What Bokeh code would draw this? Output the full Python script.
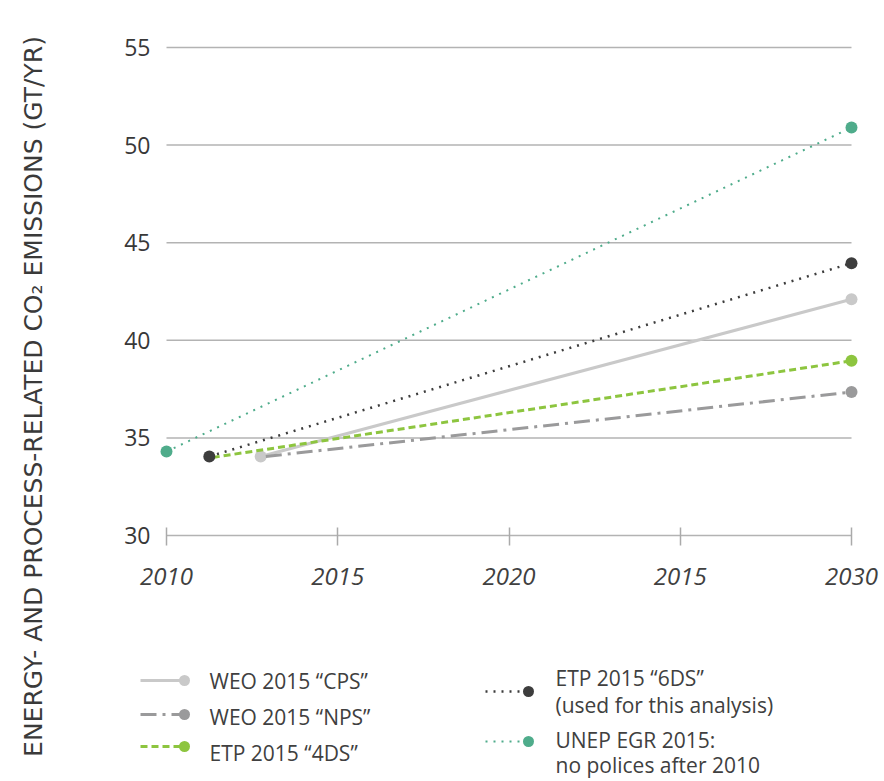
import math
from bokeh.plotting import figure
from bokeh.models import Range1d, FixedTicker, LinearAxis
from bokeh.core.properties import value
from bokeh.embed import file_html
from bokeh.resources import INLINE

# ---------------- data ----------------
series_names = ["WEO 2015 “CPS”", "WEO 2015 “NPS”", "ETP 2015 “4DS”",
                "ETP 2015 “6DS”", "UNEP EGR 2015"]
legend_lines = [["WEO 2015 “CPS”"], ["WEO 2015 “NPS”"], ["ETP 2015 “4DS”"],
                ["ETP 2015 “6DS”", "(used for this analysis)"],
                ["UNEP EGR 2015:", "no polices after 2010"]]
cps_x = [2012.75, 2030]
cps_y = [34.05, 42.1]
nps_x = [2012.9, 2030]
nps_y = [34.05, 37.35]
d4_x = [2011.35, 2030]
d4_y = [34.0, 38.95]
d6_x = [2011.25, 2030]
d6_y = [34.05, 43.95]
unep_x = [2010, 2030]
unep_y = [34.3, 50.9]
start_marker = [True, False, False, True, True]

x_ticks = [2010, 2015, 2020, 2025, 2030]
x_tick_labels = ["2010", "2015", "2020", "2015", "2030"]
y_ticks = [30, 35, 40, 45, 50, 55]
y_title = "ENERGY- AND PROCESS-RELATED CO\u2082 EMISSIONS (GT/YR)"

colors = ["#c9c9c9", "#9a9a9b", "#8dc53f", "#3d3d3d", "#4fac8b"]
dashes = ["solid", "16 6 3 6", "7 4", "2 6", "2 6"]
widths = [3, 3, 3, 2.5, 2]

xs_all = [cps_x, nps_x, d4_x, d6_x, unep_x]
ys_all = [cps_y, nps_y, d4_y, d6_y, unep_y]

FONT = "Open Sans"
TXT = "#404040"

W, H = 884, 781
# pixel placement of the plotting area: x_ticks[0] at px 166, x_ticks[-1] at 851;
# y_ticks[0] at px 535, y_ticks[-1] at 47
px_x0, px_x1 = 166, 851
px_y0, px_y1 = 535, 47
sx = (px_x1 - px_x0) / (x_ticks[-1] - x_ticks[0])
sy = (px_y0 - px_y1) / (y_ticks[-1] - y_ticks[0])
xr = Range1d(x_ticks[0] - px_x0 / sx, x_ticks[0] + (W - px_x0) / sx)
yr = Range1d(y_ticks[0] - (H - px_y0) / sy, y_ticks[0] + px_y0 / sy)

p = figure(width=W, height=H, x_range=xr, y_range=yr,
           output_backend="svg", toolbar_location=None, min_border=0,
           outline_line_color=None, x_axis_type=None, y_axis_type=None)
p.grid.visible = False
p.extra_x_ranges = {"px": Range1d(0, W)}
p.extra_y_ranges = {"px": Range1d(H, 0)}

xaxis = LinearAxis(fixed_location=y_ticks[0], ticker=FixedTicker(ticks=x_ticks))
xaxis.major_label_overrides = {t: l for t, l in zip(x_ticks, x_tick_labels)}
xaxis.axis_line_color = None
xaxis.major_tick_in = 8
xaxis.major_tick_out = 10
xaxis.major_tick_line_color = "#aaaaaa"
xaxis.major_tick_line_width = 1.5
xaxis.minor_tick_line_color = None
xaxis.major_label_standoff = 22
xaxis.major_label_text_font = FONT
xaxis.major_label_text_font_style = "italic"
xaxis.major_label_text_font_size = "24px"
xaxis.major_label_text_color = TXT
p.add_layout(xaxis, "below")

yaxis = LinearAxis(fixed_location=x_ticks[0], ticker=FixedTicker(ticks=y_ticks))
yaxis.axis_line_color = None
yaxis.major_tick_line_color = None
yaxis.minor_tick_line_color = None
yaxis.major_tick_in = 0
yaxis.major_tick_out = 0
yaxis.major_label_standoff = 16
yaxis.major_label_text_font = FONT
yaxis.major_label_text_font_size = "23px"
yaxis.major_label_text_color = "#383838"
p.add_layout(yaxis, "left")

# horizontal grid lines, from first to last x tick
p.segment(x0=[x_ticks[0]] * len(y_ticks), x1=[x_ticks[-1]] * len(y_ticks),
          y0=y_ticks, y1=y_ticks, line_color="#b3b3b3", line_width=1.5)

for xs, ys, c, d, w, sm in zip(xs_all, ys_all, colors, dashes, widths, start_marker):
    p.line(xs, ys, line_color=c, line_width=w, line_dash=d)
    mx = [xs[-1]] + ([xs[0]] if sm else [])
    my = [ys[-1]] + ([ys[0]] if sm else [])
    p.scatter(mx, my, size=12, fill_color=c, line_color=None)

# ---------------- y title (pixel space) ----------------
p.text(x=[33], y=[396], text=[y_title], angle=math.pi / 2,
       text_align="center", text_baseline="middle",
       text_font=value("DejaVu Sans"), text_font_size="25px", text_color="#3a3a3a",
       x_range_name="px", y_range_name="px")

# ---------------- legend (pixel space) ----------------
lx0 = [140, 140, 140, 485, 485]
lx1 = [184, 184, 184, 528, 528]
ly = [680, 714, 746, 691, 741]
tx = [209, 209, 209, 555, 555]
ty = [[680], [716], [752], [677, 704], [739, 764]]
for i in range(5):
    p.line([lx0[i], lx1[i]], [ly[i], ly[i]], line_color=colors[i], line_width=widths[i],
           line_dash=dashes[i], x_range_name="px", y_range_name="px")
    p.scatter([lx1[i]], [ly[i]], size=11, fill_color=colors[i], line_color=None,
              x_range_name="px", y_range_name="px")
    p.text(x=[tx[i]] * len(legend_lines[i]), y=ty[i], text=legend_lines[i],
           text_align="left", text_baseline="middle", text_font=value(FONT),
           text_font_size="21px", text_color=TXT,
           x_range_name="px", y_range_name="px")

open("out.html", "w").write(file_html(p, INLINE))
